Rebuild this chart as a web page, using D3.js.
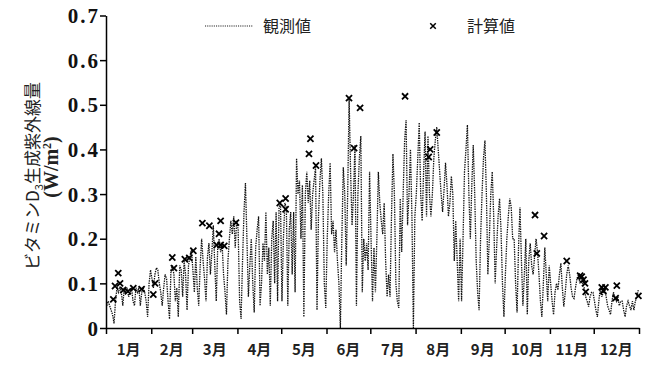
<!DOCTYPE html>
<meta charset="utf-8">
<style>
body{margin:0;background:#fff;}
</style>
<body>
<script src="https://d3js.org/d3.v7.min.js"></script>
<script>
// observed daily values, one array per month (W/m2)
var obsJan = [0.05,0.06,0.05,0.04,0.03,0.01,0.06,0.09,0.08,0.09,0.08,0.05,0.09,0.08,0.09,0.07,0.08,0.09,0.06,0.05,0.09,0.08,0.09,0.05,0.08,0.09,0.08,0.06,0.025,0.1,0.13];
var obsFeb = [0.11,0.09,0.12,0.135,0.13,0.1,0.08,0.05,0.09,0.12,0.11,0.06,0.02,0.13,0.14,0.12,0.06,0.09,0.025,0.14,0.13,0.07,0.15,0.12,0.04,0.14,0.16,0.175];
var obsMar = [0.13,0.08,0.16,0.09,0.05,0.14,0.2,0.15,0.11,0.06,0.16,0.19,0.12,0.17,0.23,0.14,0.06,0.18,0.2,0.17,0.19,0.12,0.08,0.03,0.15,0.2,0.24,0.21,0.25,0.18,0.24];
var obsApr = [0.22,0.06,0.02,0.15,0.26,0.325,0.2,0.07,0.14,0.2,0.1,0.035,0.18,0.22,0.25,0.05,0.1,0.19,0.15,0.26,0.12,0.18,0.05,0.2,0.24,0.1,0.26,0.06,0.27,0.28];
var obsMay = [0.06,0.2,0.28,0.27,0.05,0.22,0.26,0.12,0.26,0.08,0.38,0.3,0.33,0.2,0.32,0.025,0.3,0.35,0.28,0.33,0.22,0.3,0.33,0.36,0.04,0.25,0.33,0.38,0.3,0.1,0.045];
var obsJun = [0.2,0.3,0.37,0.21,0.24,0.17,0.22,0.15,0.1,0.0,0.2,0.36,0.3,0.14,0.3,0.514,0.35,0.23,0.3,0.41,0.05,0.3,0.38,0.43,0.08,0.2,0.15,0.19,0.13,0.35];
var obsJul = [0.2,0.06,0.18,0.08,0.2,0.35,0.28,0.24,0.21,0.28,0.15,0.07,0.12,0.07,0.25,0.39,0.3,0.1,0.06,0.045,0.29,0.17,0.3,0.42,0.466,0.23,0.3,0.4,0.25,0.0,0.25];
var obsAug = [0.3,0.38,0.46,0.3,0.24,0.35,0.44,0.25,0.43,0.3,0.25,0.3,0.38,0.42,0.45,0.4,0.35,0.3,0.26,0.31,0.37,0.32,0.25,0.28,0.34,0.3,0.15,0.24,0.15,0.06,0.2];
var obsSep = [0.06,0.2,0.35,0.4,0.455,0.3,0.2,0.32,0.41,0.3,0.15,0.08,0.04,0.2,0.3,0.38,0.42,0.3,0.12,0.2,0.3,0.35,0.25,0.1,0.18,0.25,0.29,0.22,0.1,0.025];
var obsOct = [0.12,0.2,0.25,0.29,0.27,0.2,0.2,0.1,0.035,0.18,0.27,0.15,0.05,0.12,0.2,0.03,0.15,0.19,0.14,0.12,0.16,0.2,0.17,0.12,0.06,0.025,0.1,0.18,0.12,0.06,0.14];
var obsNov = [0.1,0.06,0.03,0.08,0.1,0.085,0.12,0.145,0.09,0.048,0.08,0.12,0.14,0.12,0.09,0.07,0.066,0.09,0.11,0.12,0.1,0.11,0.1,0.09,0.07,0.06,0.048,0.07,0.08,0.08];
var obsDec = [0.06,0.04,0.025,0.06,0.09,0.07,0.08,0.09,0.07,0.05,0.04,0.03,0.06,0.08,0.07,0.06,0.07,0.05,0.06,0.06,0.04,0.025,0.05,0.06,0.05,0.04,0.06,0.04,0.06,0.07,0.085];

// calculated values: day of year and value
var calcDay = [5,6.2,8.4,9.6,11.8,15,18.7,24.4,32.4,33.6,45.4,46.5,54,57,59.8,66,70.8,78.5,77.4,75.8,78.5,81,89,119,123,123,140,139,143.8,166.4,174,169.9,204.8,222,221,226.5,293.8,300,295,315.5,324.7,325.8,327,328,328.5,339.5,342,340.6,349.8,349,364.6];
var calcVal = [0.064,0.094,0.123,0.1,0.085,0.082,0.089,0.087,0.075,0.1,0.158,0.134,0.154,0.157,0.173,0.235,0.229,0.24,0.211,0.186,0.186,0.184,0.236,0.28,0.29,0.266,0.424,0.39,0.364,0.515,0.493,0.403,0.519,0.4,0.383,0.438,0.253,0.206,0.167,0.15,0.117,0.115,0.108,0.1,0.081,0.091,0.091,0.083,0.095,0.067,0.072];

var monthLabels = ["1月","2月","3月","4月","5月","6月","7月","8月","9月","10月","11月","12月"];
var monthStarts = [0,31,59,90,120,151,181,212,243,273,304,334,365];
var yTicks = [0,0.1,0.2,0.3,0.4,0.5,0.6,0.7];

var w = 657, h = 372;
var svg = d3.select("body").append("svg")
  .attr("width", w).attr("height", h);

var x = d3.scaleLinear().domain([0,365]).range([106,639]);
var y = d3.scaleLinear().domain([0,0.7]).range([328,15.5]);

var observed = [].concat(obsJan,obsFeb,obsMar,obsApr,obsMay,obsJun,obsJul,obsAug,obsSep,obsOct,obsNov,obsDec);

// observed line (dotted)
var line = d3.line()
  .x(function(d,i){ return x(i + 0.5); })
  .y(function(d){ return y(d); });

svg.append("path")
  .datum(observed)
  .attr("d", line)
  .attr("fill", "none")
  .attr("stroke", "#111")
  .attr("stroke-width", 1.3)
  .attr("stroke-dasharray", "1.4,1");

// y axis
var yAxis = d3.axisLeft(y).tickValues(yTicks).tickSize(6).tickSizeOuter(0)
  .tickFormat(function(d){ return d === 0 ? "0" : d3.format(".1f")(d); });
var gy = svg.append("g").attr("transform", "translate(106,0)").call(yAxis);
gy.select(".domain").attr("stroke","#000").attr("stroke-width",1.5);
gy.selectAll(".tick line").attr("stroke","#000").attr("stroke-width",1.5);
gy.selectAll(".tick text")
  .attr("x", -6)
  .attr("dy", "0.34em")
  .style("font-family","'Liberation Serif','Times New Roman',serif")
  .style("font-size","21px")
  .style("font-weight","bold")
  .style("letter-spacing","2px")
  .attr("fill","#111");

// x axis with month boundary ticks
var xAxis = d3.axisBottom(x).tickValues(monthStarts).tickSize(6).tickSizeOuter(0)
  .tickFormat("");
var gx = svg.append("g").attr("transform", "translate(0,328)").call(xAxis);
gx.select(".domain").attr("stroke","#000").attr("stroke-width",1.5);
gx.selectAll(".tick line").attr("stroke","#000").attr("stroke-width",1.5);

svg.selectAll(".mlabel")
  .data(monthLabels)
  .enter().append("text")
  .attr("class","mlabel")
  .attr("x", function(d,i){ return x((monthStarts[i] + monthStarts[i+1]) / 2); })
  .attr("y", 355)
  .attr("text-anchor","middle")
  .style("font-family","'Noto Sans CJK JP',sans-serif")
  .style("font-size","15px")
  .style("font-weight","bold")
  .attr("fill","#222")
  .text(function(d){ return d; });

// calculated markers
var xSym = d3.symbol().type(d3.symbolX).size(26);
svg.selectAll(".calc")
  .data(calcDay)
  .enter().append("path")
  .attr("class","calc")
  .attr("d", xSym)
  .attr("transform", function(d,i){ return "translate(" + x(d) + "," + y(calcVal[i]) + ")"; })
  .attr("fill","none")
  .attr("stroke","#000")
  .attr("stroke-width",1.8);

// y axis title
var yt = svg.append("text")
  .attr("transform","translate(39,176) rotate(-90)")
  .attr("text-anchor","middle")
  .style("font-family","'Noto Sans CJK JP',sans-serif")
  .style("font-size","17px")
  .attr("fill","#222");
yt.append("tspan").text("ビタミンD");
yt.append("tspan").attr("dy",4).style("font-size","11px").text("3");
yt.append("tspan").attr("dy",-4).text("生成紫外線量");

var yt2 = svg.append("text")
  .attr("transform","translate(58,167) rotate(-90)")
  .attr("text-anchor","middle")
  .style("font-family","'Liberation Serif',serif")
  .style("font-size","20px")
  .style("font-weight","bold")
  .attr("fill","#222");
yt2.append("tspan").text("(W/m");
yt2.append("tspan").attr("dy",-7).style("font-size","12px").text("2");
yt2.append("tspan").attr("dy",7).text(")");

// legend
svg.append("line")
  .attr("x1",205).attr("x2",253).attr("y1",26).attr("y2",26)
  .attr("stroke","#1a1a1a").attr("stroke-width",1.1)
  .attr("stroke-dasharray","1.1,1.1");
svg.append("text")
  .attr("x",263).attr("y",32)
  .style("font-family","'Noto Sans CJK JP',sans-serif")
  .style("font-size","16px")
  .attr("fill","#222")
  .text("観測値");
svg.append("path")
  .attr("d", d3.symbol().type(d3.symbolX).size(22))
  .attr("transform","translate(433,26)")
  .attr("fill","none").attr("stroke","#000").attr("stroke-width",1.5);
svg.append("text")
  .attr("x",467).attr("y",32)
  .style("font-family","'Noto Sans CJK JP',sans-serif")
  .style("font-size","16px")
  .attr("fill","#222")
  .text("計算値");
</script>
</body>
